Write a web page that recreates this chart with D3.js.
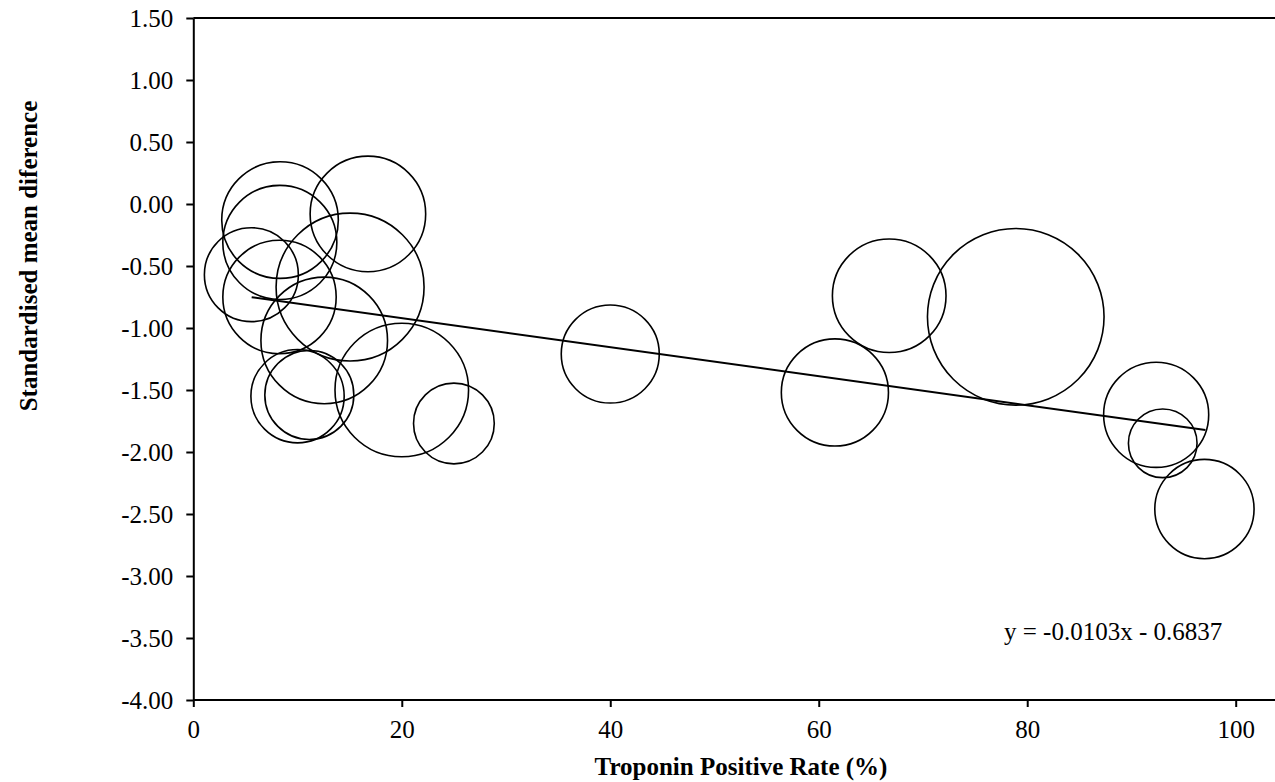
<!DOCTYPE html>
<html>
<head>
<meta charset="utf-8">
<script src="https://d3js.org/d3.v7.min.js"></script>
<style>
  body { margin: 0; background: #fff; }
  text { font-family: "Liberation Serif", "Times New Roman", serif; }
</style>
</head>
<body>
<script>
// troponin positive rate (%) per study
var rates = [8.32, 8.3, 16.75, 5.57, 15.04, 8.27, 12.56, 10.0, 11.13, 20.0, 25.0, 40.0, 61.55, 66.76, 78.9, 92.37, 93.0, 97.0];
// standardised mean difference per study
var smd = [-0.13, -0.31, -0.08, -0.57, -0.67, -0.75, -1.10, -1.55, -1.54, -1.50, -1.77, -1.21, -1.52, -0.74, -0.91, -1.70, -1.93, -2.46];
// bubble size (relative weight)
var weights = [43.6, 41.7, 42.8, 28.3, 70.2, 41.2, 51.4, 27.9, 25.4, 57.2, 20.9, 30.8, 36.8, 41.4, 100, 35.4, 15.1, 31.6];

// fitted line as drawn
var trendX = [5.6, 97.1];
var trendY = [-0.752, -1.823];

var xTicks = [0, 20, 40, 60, 80, 100];
var yTicks = [1.5, 1.0, 0.5, 0.0, -0.5, -1.0, -1.5, -2.0, -2.5, -3.0, -3.5, -4.0];
var equation = "y = -0.0103x - 0.6837";

var W = 1275, H = 782;
var plotLeft = 193.3, plotTop = 18, plotBottom = 700, x100 = 1235.7;

var svg = d3.select("body").append("svg")
    .attr("width", W)
    .attr("height", H);

var x = d3.scaleLinear().domain([0, 100]).range([plotLeft, x100]);
var y = d3.scaleLinear().domain([-4, 1.5]).range([plotBottom, plotTop]);
var r = d3.scaleSqrt().domain([0, 100]).range([0, 88.3]);

var data = rates.map(function (d, i) {
    return { rate: d, smd: smd[i], w: weights[i] };
});

// bubbles
svg.append("g").selectAll("circle")
    .data(data)
    .enter()
    .append("circle")
    .attr("cx", function (d) { return x(d.rate); })
    .attr("cy", function (d) { return y(d.smd); })
    .attr("r", function (d) { return r(d.w); })
    .attr("fill", "none")
    .attr("stroke", "#000")
    .attr("stroke-width", 1.6);

// trend line
svg.append("line")
    .attr("x1", x(trendX[0]))
    .attr("y1", y(trendY[0]))
    .attr("x2", x(trendX[1]))
    .attr("y2", y(trendY[1]))
    .attr("stroke", "#000")
    .attr("stroke-width", 2);

// frame top (runs to the edge)
svg.append("line").attr("x1", plotLeft).attr("x2", W + 5).attr("y1", plotTop).attr("y2", plotTop)
    .attr("stroke", "#000").attr("stroke-width", 2);

// axes
var xAxis = svg.append("g")
    .attr("transform", "translate(0," + plotBottom + ")")
    .call(d3.axisBottom(x).tickValues(xTicks).tickSize(7).tickPadding(13).tickSizeOuter(0)
        .tickFormat(function (d) { return d; }));
xAxis.select(".domain").attr("d", "M" + plotLeft + ",0H" + (W + 5)).attr("stroke-width", 2);

var yAxis = svg.append("g")
    .attr("transform", "translate(" + plotLeft + ",0)")
    .call(d3.axisLeft(y).tickValues(yTicks).tickSize(7).tickPadding(13).tickSizeOuter(0)
        .tickFormat(function (d) { return d.toFixed(2); }));
yAxis.select(".domain").attr("stroke-width", 2);

svg.selectAll(".tick line").attr("stroke-width", 2);
svg.selectAll(".tick text")
    .attr("font-family", "Liberation Serif, Times New Roman, serif")
    .attr("font-size", 25)
    .attr("fill", "#000");

// axis titles
svg.append("text")
    .text("Troponin Positive Rate (%)")
    .attr("x", 741)
    .attr("y", 775)
    .attr("text-anchor", "middle")
    .attr("font-weight", "bold")
    .attr("font-size", 25);

svg.append("text")
    .text("Standardised mean diference")
    .attr("transform", "translate(37,256) rotate(-90)")
    .attr("text-anchor", "middle")
    .attr("font-weight", "bold")
    .attr("font-size", 25);

// regression equation
svg.append("text")
    .text(equation)
    .attr("x", 1004)
    .attr("y", 640)
    .attr("font-size", 25);
</script>
</body>
</html>
